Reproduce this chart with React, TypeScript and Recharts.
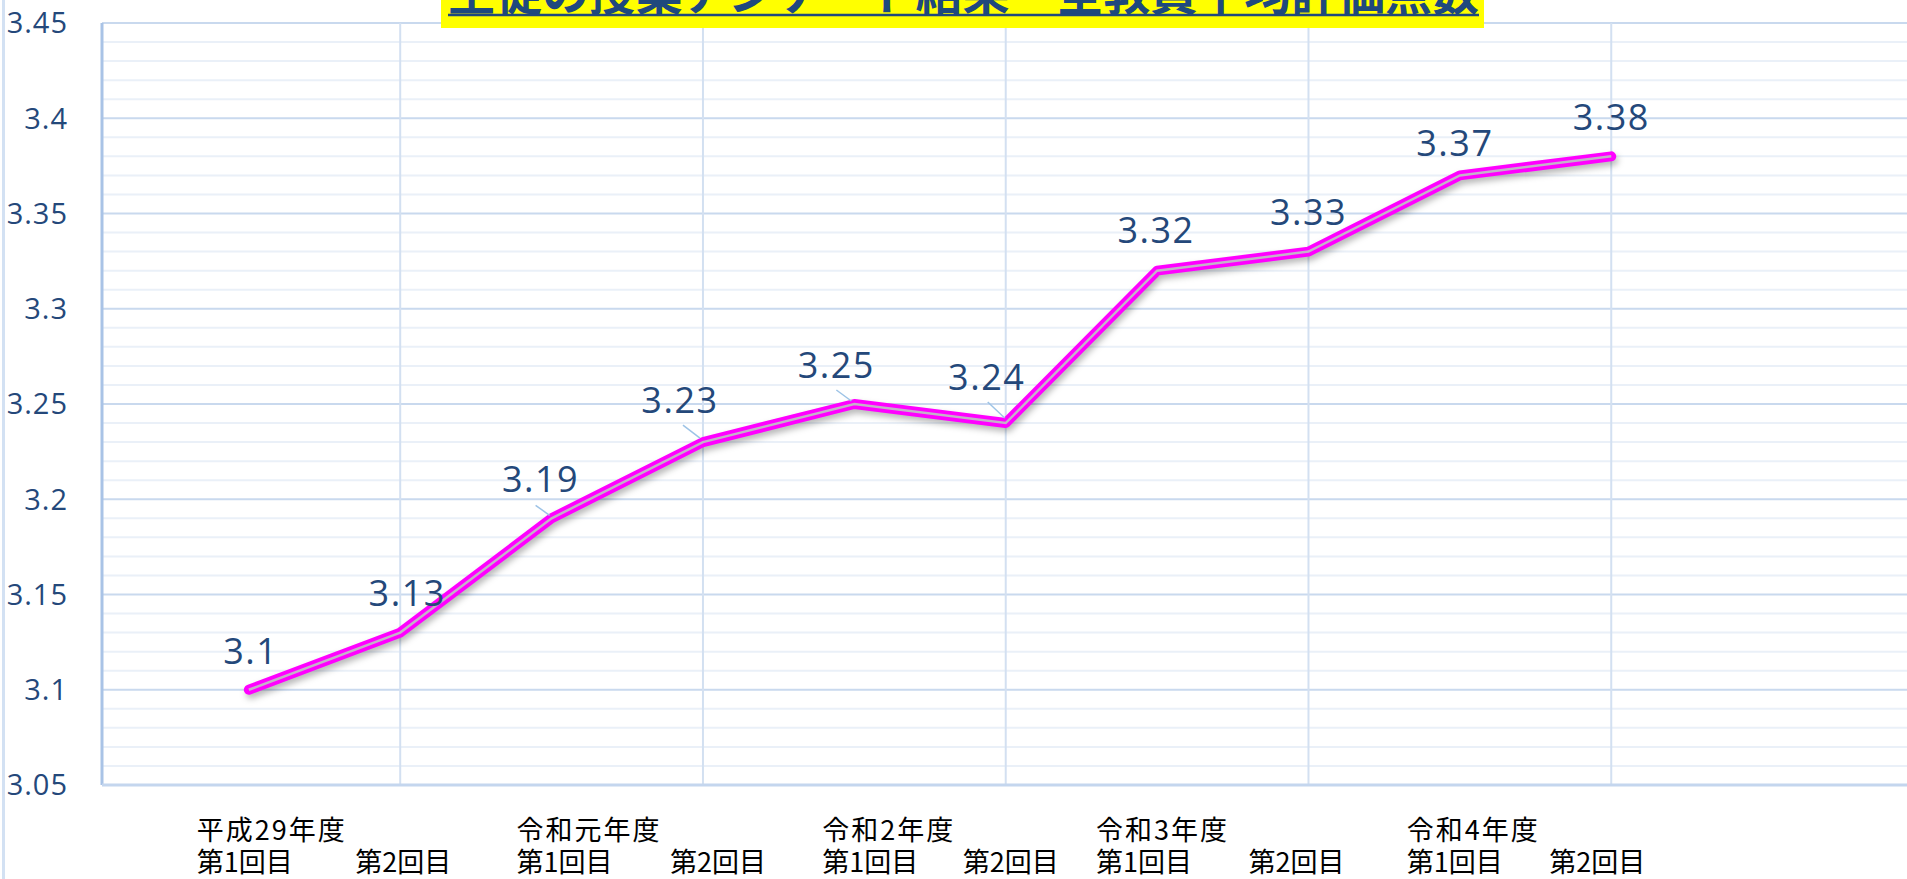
import React from 'react';
import { LineChart, Line, XAxis, YAxis, ReferenceLine, LabelList } from 'recharts';

// ---- data ----
const rounds = ['第1回目', '第2回目', '第1回目', '第2回目', '第1回目', '第2回目', '第1回目', '第2回目', '第1回目', '第2回目'];
const years = ['平成29年度', '', '令和元年度', '', '令和2年度', '', '令和3年度', '', '令和4年度', ''];
const scores = [3.1, 3.13, 3.19, 3.23, 3.25, 3.24, 3.32, 3.33, 3.37, 3.38];
const yTicks = [3.05, 3.1, 3.15, 3.2, 3.25, 3.3, 3.35, 3.4, 3.45];
const gridCategoryIdx = [1, 3, 5, 7, 9, 11];
const title = '生徒の授業アンケート結果　全教員平均評価点数';

const data = scores.map((v, i) => ({ idx: i, value: v }));

// ---- presentation (positions/styles, not data) ----
const labelOffsets: [number, number][] = [
  [2, -39], [7, -40], [-11, -40], [-23, -43], [-18, -40],
  [-19, -47], [-1, -41], [0, -40], [-5, -33], [0, -40],
];
const leaders: (number[] | null)[] = [
  null, null, [-16, -13, -2, -3], [-20, -17, -3, -4], [-18, -14, -3, -3],
  [-18, -21, -1, -5], null, null, null, null,
];
const roundStartDx = [-52, -45, -35, -33, -32, -43, -61, -60, -53, -62];

const minorValues: number[] = [];
for (let k = 305; k <= 345; k++) {
  if (k % 5 !== 0) minorValues.push(k / 100);
}

const BLUE_TEXT = '#24487A';

const XTick = (props: any) => {
  const { x, y, payload } = props;
  const i = payload.value as number;
  const sx = x + roundStartDx[i];
  if (years[i]) {
    return (
      <text x={sx} y={y + 55} fontSize={27} fill="#000" fontFamily="'Noto Sans CJK JP'">
        <tspan x={sx} letterSpacing={2}>{years[i]}</tspan>
        <tspan x={sx} dy={32}>{rounds[i]}</tspan>
      </text>
    );
  }
  return (
    <text x={sx} y={y + 87} fontSize={27} fill="#000" fontFamily="'Noto Sans CJK JP'">
      {rounds[i]}
    </text>
  );
};

const renderLabel = (p: any) => {
  const { x, y, value, index } = p;
  const [dx, dy] = labelOffsets[index] || [0, -40];
  const ld = leaders[index];
  return (
    <g>
      {ld ? (
        <line x1={x + ld[0]} y1={y + ld[1]} x2={x + ld[2]} y2={y + ld[3]} stroke="#9DC3E6" strokeWidth={1.5} />
      ) : null}
      <text
        x={x + dx}
        y={y + dy}
        textAnchor="middle"
        dominantBaseline="central"
        fontSize={36}
        letterSpacing={1.5}
        fill={BLUE_TEXT}
        fontFamily="'Open Sans'"
      >
        {String(value)}
      </text>
    </g>
  );
};

export default function App() {
  return (
    <div
      style={{
        position: 'absolute',
        left: 0,
        top: 0,
        width: 1907,
        height: 879,
        overflow: 'hidden',
        background: '#fff',
      }}
    >
      <style>{`.mline .recharts-line-curve { filter: drop-shadow(2px 4px 3px rgba(0,0,0,0.28)); }`}</style>
      <LineChart width={1914} height={879} data={data} margin={{ top: 23, right: 0, bottom: 0, left: 0 }}>
        <XAxis
          type="number"
          dataKey="idx"
          domain={[-0.97, 11]}
          allowDataOverflow
          ticks={[0, 1, 2, 3, 4, 5, 6, 7, 8, 9]}
          interval={0}
          height={94}
          tickSize={0}
          tickMargin={0}
          tickLine={false}
          axisLine={false}
          tick={<XTick />}
        />
        <YAxis
          type="number"
          domain={[3.05, 3.45]}
          allowDataOverflow
          ticks={yTicks}
          interval={0}
          width={102}
          tickSize={0}
          tickMargin={34}
          tickLine={false}
          axisLine={false}
          tick={{ fill: BLUE_TEXT, fontSize: 29, fontFamily: "'Open Sans'", letterSpacing: 1 }}
          tickFormatter={(v: number) => String(v)}
        />
        {minorValues.map((v) => (
          <ReferenceLine key={'mn' + v} y={v} stroke="#EAF0F8" strokeWidth={2} />
        ))}
        {yTicks.map((v) => (
          <ReferenceLine key={'mj' + v} y={v} stroke="#C9D9EE" strokeWidth={2} />
        ))}
        {gridCategoryIdx.map((v) => (
          <ReferenceLine key={'vx' + v} x={v} stroke="#D3E0F1" strokeWidth={2} />
        ))}
        <ReferenceLine x={-0.97} stroke="#A9C3E6" strokeWidth={3} />
        <ReferenceLine y={3.05} stroke="#C4D6EE" strokeWidth={3} />
        <Line
          className="mline"
          type="linear"
          dataKey="value"
          stroke="#FF00FF"
          strokeWidth={10}
          strokeLinecap="round"
          strokeLinejoin="round"
          dot={false}
          activeDot={false}
          isAnimationActive={false}
        />
        <Line
          type="linear"
          dataKey="value"
          stroke="#C4B2C8"
          strokeWidth={2.5}
          dot={false}
          activeDot={false}
          isAnimationActive={false}
        >
          <LabelList dataKey="value" content={renderLabel} />
        </Line>
      </LineChart>
      <div style={{ position: 'absolute', left: 2, top: 0, width: 3, height: 879, background: '#D3E1F3' }} />
      <svg style={{ position: 'absolute', left: 0, top: 0 }} width={1907} height={40}>
        <rect x={441} y={0} width={1043} height={28} fill="#FFFF00" />
        <text
          x={448}
          y={10}
          fontSize={47}
          fontWeight={700}
          fill="#1F497D"
          fontFamily="'Noto Sans CJK JP'"
          textLength={1031}
          lengthAdjust="spacing"
        >
          {title}
        </text>
        <line x1={448} y1={15} x2={1479} y2={15} stroke="#1F497D" strokeWidth={2.5} />
      </svg>
    </div>
  );
}
